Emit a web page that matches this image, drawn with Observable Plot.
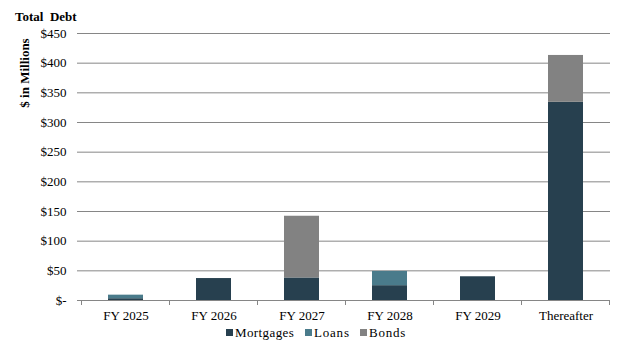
<!DOCTYPE html>
<html><head><meta charset="utf-8">
<script src="https://cdn.jsdelivr.net/npm/d3@7"></script>
<script src="https://cdn.jsdelivr.net/npm/@observablehq/plot@0.6"></script>
<style>body{margin:0;background:#fff;} svg{display:block;}</style>
</head><body><div id="chart"></div>
<script>
const categories = ["FY 2025","FY 2026","FY 2027","FY 2028","FY 2029","Thereafter"];
const series = ["Mortgages","Loans","Bonds"];
const mortgages = [3, 37, 38, 25, 40, 334];
const loans = [6, 0, 0, 24, 0, 0];
const bonds = [0, 0, 104, 0, 0, 79];
const colors = ["#27404f","#4a7b8b","#828282"];
const yTicks = [0,50,100,150,200,250,300,350,400,450];
const yTickLabels = ["$-","$50","$100","$150","$200","$250","$300","$350","$400","$450"];

const valuesBySeries = [mortgages, loans, bonds];
const data = [];
series.forEach((s, si) => categories.forEach((c, ci) => data.push({cat: c, series: s, value: valuesBySeries[si][ci]})));

const font = "'Liberation Serif','Times New Roman',serif";
const grid = "#868686";

const plot = Plot.plot({
  width: 624, height: 351,
  marginLeft: 81, marginRight: 14, marginTop: 33, marginBottom: 51,
  style: {fontFamily: font, fontSize: "13px", color: "#000", background: "#fff"},
  x: {domain: categories, paddingInner: 0.6, paddingOuter: 0.3, label: null},
  y: {domain: [0, 450], label: null},
  color: {domain: series, range: colors},
  marks: [
    Plot.gridY(yTicks, {stroke: grid, strokeOpacity: 1, strokeWidth: 1}),
    Plot.axisY(yTicks, {tickSize: 4, stroke: grid, tickPadding: 11, tickFormat: (d) => yTickLabels[yTicks.indexOf(d)], fill: "#000", label: null}),
    Plot.barY(data, Plot.stackY({x: "cat", y: "value", fill: "series", order: series})),
    Plot.ruleX([0], {frameAnchor: "left", stroke: grid}),
    Plot.ruleY([0], {stroke: grid}),
    Plot.axisX({tickSize: 0, tickPadding: 10, fill: "#000", label: null})
  ]
});

const svg = d3.select(plot);
const xs = plot.scale("x");
const ys = plot.scale("y");
const y0 = ys.apply(0);
// boundary tick marks on the category axis
const bounds = [];
categories.forEach((c, i) => {
  const center = xs.apply(c) + xs.bandwidth / 2;
  if (i === 0) bounds.push(center - xs.step / 2);
  bounds.push(center + xs.step / 2);
});
svg.append("g").selectAll("line").data(bounds).join("line")
  .attr("x1", d => d).attr("x2", d => d)
  .attr("y1", y0).attr("y2", y0 + 5)
  .attr("stroke", grid);

// title
svg.append("text").attr("x", 15).attr("y", 21)
  .attr("text-anchor", "start")
  .attr("font-family", font).attr("font-size", 13).attr("font-weight", "bold")
  .attr("fill", "#000").attr("xml:space", "preserve").text("Total  Debt");
// y-axis title
svg.append("text").attr("transform", "translate(29,73) rotate(-90)")
  .attr("text-anchor", "middle")
  .attr("font-family", font).attr("font-size", 13).attr("font-weight", "bold")
  .attr("fill", "#000").text("$ in Millions");

// legend
const legendX = [226, 305, 360];
const lg = svg.append("g");
series.forEach((s, i) => {
  lg.append("rect").attr("x", legendX[i]).attr("y", 329).attr("width", 7).attr("height", 7).attr("fill", colors[i]);
  lg.append("text").attr("x", legendX[i] + 9).attr("y", 337)
    .attr("text-anchor", "start")
    .attr("font-family", font).attr("font-size", 13).attr("fill", "#000")
    .attr("letter-spacing", s === "Loans" || s === "Bonds" ? "0.8px" : "0.4px").text(s);
});

document.getElementById("chart").appendChild(plot);
</script>
</body></html>
